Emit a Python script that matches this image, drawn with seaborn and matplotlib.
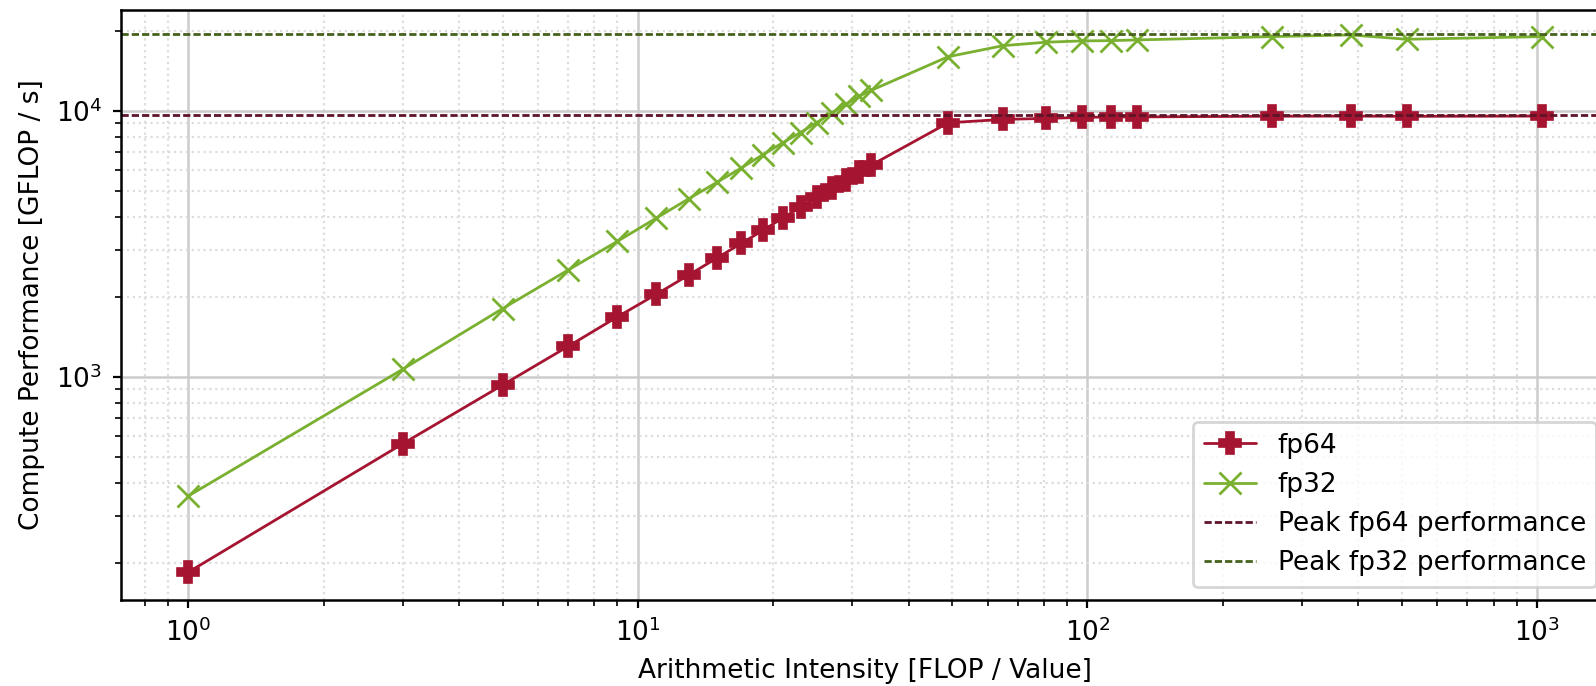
import matplotlib
matplotlib.use("Agg")
import matplotlib.pyplot as plt
import seaborn as sns
import pandas as pd

# Arithmetic intensity sweep (FLOP per value loaded)
intensity = [1, 3, 5, 7, 9, 11, 13, 15, 17, 19, 21, 23, 25, 27, 29, 31, 33,
             49, 65, 81, 97, 113, 129, 257, 385, 513, 1025]

# Measured compute throughput [GFLOP/s]
perf_fp64 = [184, 560, 931, 1302, 1680, 2045, 2420, 2800, 3180, 3560, 3960,
             4340, 4740, 5120, 5520, 5880, 6250,
             9030, 9300, 9380, 9460, 9500, 9500, 9560, 9570, 9550, 9570]
perf_fp32 = [356, 1068, 1805, 2523, 3232, 3958, 4685, 5395, 6110, 6860, 7600,
             8300, 9050, 9850, 10600, 11350, 11950,
             16010, 17620, 18150, 18350, 18400, 18510, 19050, 19330, 18620, 19050]

# Theoretical peaks [GFLOP/s]
peak_fp64 = 9700
peak_fp32 = 19500

# Value range shown on the performance axis
perf_range = (144.6, 23990)

series_labels = ["fp64", "fp32"]
peak_labels = ["Peak fp64 performance", "Peak fp32 performance"]
xlabel = "Arithmetic Intensity [FLOP / Value]"
ylabel = "Compute Performance [GFLOP / s]"

c64 = "#a51430"
c32 = "#7ab030"
c64_peak = "#5e1428"
c32_peak = "#46601e"

sns.set_theme(style="whitegrid")
plt.rcParams.update({
    "font.family": ["DejaVu Sans"],
    "font.size": 9.5,
    "axes.labelsize": 9.5,
    "xtick.labelsize": 9.5,
    "ytick.labelsize": 9.5,
    "legend.fontsize": 9.5,
    "text.color": "black",
    "legend.labelcolor": "black",
    "axes.edgecolor": "black",
    "axes.linewidth": 0.9,
    "axes.labelcolor": "black",
    "xtick.color": "black",
    "ytick.color": "black",
    "xtick.bottom": True,
    "ytick.left": True,
    "xtick.direction": "out",
    "ytick.direction": "out",
    "xtick.major.size": 3.0,
    "ytick.major.size": 3.0,
    "xtick.minor.size": 2.0,
    "ytick.minor.size": 2.0,
    "xtick.major.width": 0.8,
    "ytick.major.width": 0.8,
    "xtick.minor.width": 0.6,
    "ytick.minor.width": 0.6,
    "xtick.minor.visible": True,
    "ytick.minor.visible": True,
    "axes.axisbelow": True,
    "legend.frameon": True,
    "legend.edgecolor": "#cccccc",
    "legend.framealpha": 0.8,
    "legend.fancybox": True,
})

df64 = pd.DataFrame({"intensity": intensity, "perf": perf_fp64})
df32 = pd.DataFrame({"intensity": intensity, "perf": perf_fp32})

fig = plt.figure(figsize=(7.98, 3.43), dpi=200)
ax = fig.add_axes([0.07556, 0.12536, 0.93296, 0.86006])

sns.lineplot(data=df64, x="intensity", y="perf", ax=ax, color=c64,
             marker="P", markersize=7.8, markeredgecolor=c64,
             markeredgewidth=0.6, linewidth=1.0, label=series_labels[0])
sns.lineplot(data=df32, x="intensity", y="perf", ax=ax, color=c32,
             marker="x", markersize=8.0, markeredgecolor=c32,
             markeredgewidth=1.0, linewidth=1.0, label=series_labels[1])

ax.axhline(peak_fp64, color=c64_peak, linewidth=1.0,
           linestyle=(0, (2.6, 1.1)), label=peak_labels[0])
ax.axhline(peak_fp32, color=c32_peak, linewidth=1.0,
           linestyle=(0, (2.6, 1.1)), label=peak_labels[1])

ax.set_xscale("log")
ax.set_yscale("log")
ax.set_ylim(*perf_range)

ax.grid(which="major", color="#cccccc", linewidth=0.9, linestyle="-")
ax.grid(which="minor", color="#dddddd", linewidth=0.8, linestyle=":")

ax.set_xlabel(xlabel)
ax.set_ylabel(ylabel)

for side in ("top", "right", "left", "bottom"):
    ax.spines[side].set_color("black")

ax.legend(loc="lower right")

fig.savefig("out.png", dpi=200)
